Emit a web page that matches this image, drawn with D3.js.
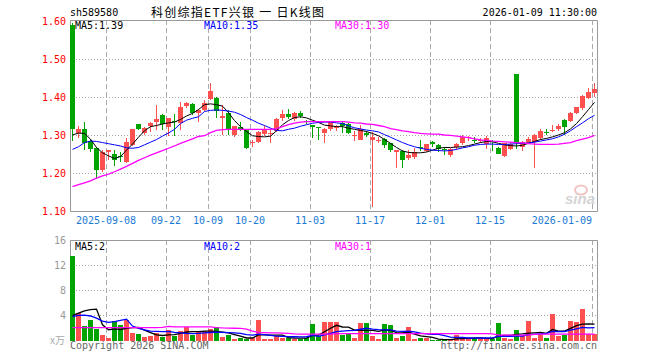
<!DOCTYPE html>
<html>
<head>
<meta charset="utf-8">
<script src="https://cdn.jsdelivr.net/npm/d3@7"></script>
<style>
body { margin: 0; background: #fff; }
svg text { font-family: "DejaVu Sans Mono", monospace; font-size: 10px; }
</style>
</head>
<body>
<svg id="chart" width="660" height="360"></svg>
<script>
// trading days shown on the chart
dates = [
  "2025-08-29",
  "2025-09-01","2025-09-02","2025-09-03","2025-09-04","2025-09-05",
  "2025-09-08","2025-09-09","2025-09-10","2025-09-11","2025-09-12",
  "2025-09-15","2025-09-16","2025-09-17","2025-09-18","2025-09-19",
  "2025-09-22","2025-09-23","2025-09-24","2025-09-25","2025-09-26",
  "2025-09-29","2025-09-30",
  "2025-10-09","2025-10-10",
  "2025-10-13","2025-10-14","2025-10-15","2025-10-16","2025-10-17",
  "2025-10-20","2025-10-21","2025-10-22","2025-10-23","2025-10-24",
  "2025-10-27","2025-10-28","2025-10-29","2025-10-30","2025-10-31",
  "2025-11-03","2025-11-04","2025-11-05","2025-11-06","2025-11-07",
  "2025-11-10","2025-11-11","2025-11-12","2025-11-13","2025-11-14",
  "2025-11-17","2025-11-18","2025-11-19","2025-11-20","2025-11-21",
  "2025-11-24","2025-11-25","2025-11-26","2025-11-27","2025-11-28",
  "2025-12-01","2025-12-02","2025-12-03","2025-12-04","2025-12-05",
  "2025-12-08","2025-12-09","2025-12-10","2025-12-11","2025-12-12",
  "2025-12-15","2025-12-16","2025-12-17","2025-12-18","2025-12-19",
  "2025-12-22","2025-12-23","2025-12-24","2025-12-25","2025-12-26",
  "2025-12-29","2025-12-30","2025-12-31",
  "2026-01-05","2026-01-06","2026-01-07","2026-01-08","2026-01-09"
];

openP = [1.591,1.305,1.316,1.286,1.267,1.208,1.257,1.250,1.246,1.230,1.274,1.330,1.306,1.326,1.335,1.353,1.321,1.338,1.333,1.378,1.382,1.358,
  1.367,1.397,1.398,1.347,1.360,1.301,1.322,1.316,1.279,1.283,1.303,1.303,1.311,1.347,1.356,1.343,1.360,1.337,1.327,1.323,1.307,1.318,
  1.321,1.333,1.330,1.300,1.289,1.307,1.288,1.286,1.290,1.279,1.257,1.258,1.241,1.242,1.268,1.259,1.282,1.274,1.263,1.248,1.268,1.279,
  1.292,1.289,1.286,1.277,1.284,1.267,1.245,1.263,1.462,1.270,1.279,1.283,1.292,1.310,1.313,1.316,1.340,1.339,1.360,1.371,1.399,1.412];
highP = [1.595,1.324,1.334,1.290,1.268,1.262,1.262,1.261,1.257,1.294,1.318,1.331,1.323,1.336,1.380,1.356,1.347,1.356,1.388,1.388,1.385,1.370,
  1.392,1.439,1.400,1.379,1.367,1.325,1.336,1.317,1.288,1.311,1.327,1.318,1.345,1.366,1.369,1.362,1.365,1.340,1.328,1.323,1.320,1.338,
  1.328,1.334,1.333,1.312,1.327,1.312,1.310,1.296,1.293,1.281,1.262,1.262,1.261,1.266,1.287,1.278,1.284,1.276,1.268,1.266,1.279,1.300,
  1.297,1.295,1.294,1.298,1.287,1.268,1.281,1.283,1.462,1.285,1.296,1.303,1.316,1.318,1.327,1.330,1.342,1.362,1.376,1.406,1.424,1.437];
lowP = [1.285,1.292,1.262,1.256,1.184,1.204,1.234,1.219,1.230,1.226,1.272,1.313,1.300,1.310,1.314,1.313,1.299,1.298,1.314,1.371,1.355,1.336,
  1.363,1.393,1.347,1.300,1.300,1.295,1.312,1.265,1.270,1.281,1.298,1.280,1.310,1.338,1.343,1.338,1.347,1.330,1.294,1.287,1.279,1.312,
  1.312,1.305,1.303,1.285,1.287,1.296,1.112,1.279,1.267,1.257,1.213,1.213,1.235,1.237,1.259,1.257,1.268,1.257,1.248,1.244,1.261,1.275,
  1.284,1.281,1.280,1.263,1.259,1.250,1.243,1.261,1.263,1.259,1.276,1.215,1.288,1.301,1.309,1.312,1.301,1.336,1.356,1.368,1.395,1.400];
closeP = [1.318,1.316,1.280,1.265,1.209,1.256,1.261,1.236,1.244,1.282,1.316,1.316,1.320,1.333,1.344,1.331,1.345,1.334,1.375,1.386,1.358,1.367,
  1.386,1.417,1.365,1.351,1.314,1.325,1.314,1.267,1.283,1.309,1.314,1.305,1.343,1.356,1.349,1.358,1.352,1.334,1.321,1.321,1.318,1.336,
  1.323,1.324,1.307,1.302,1.316,1.301,1.296,1.288,1.274,1.262,1.261,1.235,1.248,1.256,1.266,1.276,1.277,1.263,1.262,1.264,1.277,1.296,
  1.296,1.287,1.289,1.294,1.283,1.252,1.279,1.277,1.280,1.283,1.290,1.301,1.312,1.309,1.315,1.326,1.323,1.360,1.374,1.404,1.415,1.422];

// moving averages as drawn on the chart
ma5 = [1.301,1.306,1.305,1.290,1.268,1.254,1.246,1.239,1.244,1.261,1.277,1.295,1.312,1.323,1.326,1.330,1.333,1.335,1.342,1.351,1.358,1.368,
  1.381,1.383,1.381,1.377,1.360,1.339,1.323,1.310,1.299,1.297,1.296,1.298,1.312,1.328,1.339,1.347,1.349,1.346,1.340,1.334,1.327,1.325,
  1.323,1.323,1.319,1.316,1.313,1.310,1.305,1.299,1.289,1.279,1.268,1.259,1.255,1.254,1.254,1.256,1.261,1.266,1.268,1.268,1.269,1.270,
  1.273,1.277,1.281,1.284,1.283,1.279,1.275,1.273,1.272,1.274,1.279,1.284,1.289,1.292,1.296,1.301,1.307,1.317,1.331,1.349,1.368,1.387];
ma10 = [1.263,1.270,1.281,1.285,1.284,1.281,1.278,1.275,1.272,1.267,1.266,1.268,1.275,1.282,1.289,1.298,1.306,1.316,1.331,1.340,1.345,1.349,
  1.363,1.366,1.367,1.366,1.364,1.361,1.355,1.347,1.340,1.332,1.326,1.319,1.313,1.312,1.316,1.319,1.324,1.328,1.332,1.334,1.335,1.335,
  1.333,1.331,1.325,1.320,1.317,1.314,1.312,1.309,1.302,1.295,1.288,1.281,1.275,1.270,1.266,1.263,1.261,1.260,1.259,1.260,1.263,1.267,
  1.270,1.274,1.276,1.277,1.277,1.276,1.276,1.277,1.278,1.279,1.280,1.282,1.285,1.288,1.291,1.296,1.303,1.312,1.323,1.333,1.344,1.353];
ma30 = [1.165,1.170,1.175,1.180,1.187,1.193,1.198,1.204,1.211,1.218,1.226,1.234,1.241,1.248,1.254,1.260,1.266,1.272,1.279,1.285,1.291,1.297,
  1.299,1.307,1.313,1.315,1.316,1.316,1.316,1.316,1.316,1.316,1.316,1.316,1.318,1.323,1.328,1.332,1.335,1.336,1.336,1.336,1.336,1.336,
  1.336,1.336,1.335,1.333,1.332,1.330,1.329,1.326,1.323,1.318,1.315,1.312,1.310,1.307,1.305,1.304,1.303,1.303,1.301,1.300,1.298,1.296,
  1.294,1.291,1.288,1.287,1.285,1.284,1.283,1.282,1.281,1.280,1.278,1.277,1.276,1.276,1.276,1.277,1.279,1.281,1.286,1.290,1.294,1.300];

// volume in 万
volume = [13.4,4.3,2.3,3.25,1.8,0.85,0.42,3.1,2.45,3.25,1.22,1.0,0.58,0.69,1.22,0.58,1.65,0.69,1.54,2.18,0.85,1.54,
  1.54,1.86,2.07,0.58,0.85,0.2,0.42,0.3,0.4,3.25,0.3,0.3,0.7,0.4,0.4,0.3,0.3,0.47,2.6,0.69,2.98,2.98,
  2.98,0.85,1.0,0.47,2.82,2.82,0.69,0.3,2.6,2.45,0.47,0.69,2.13,0.3,0.37,0.37,0.15,0.15,0.05,0.15,0.85,0.37,
  0.26,0.42,0.26,0.42,0.26,2.77,0.37,0.26,1.65,0.69,3.09,0.47,0.85,0.47,4.21,0.69,0.85,3.09,2.93,5.0,1.1,1.1];
volMa5 = [3.95,4.35,4.7,4.9,5.0,2.5,1.72,1.85,1.75,1.95,2.05,2.1,1.65,1.25,0.9,0.8,0.9,0.95,1.15,1.35,1.4,1.4,
  1.5,1.5,1.45,1.35,1.2,0.95,0.7,0.4,0.4,0.88,0.88,0.86,0.85,0.85,0.45,0.4,0.38,0.37,0.8,0.86,1.4,1.95,
  2.42,2.15,2.12,1.66,1.63,1.6,1.6,1.46,1.7,1.6,1.25,1.2,1.35,1.0,0.75,0.62,0.5,0.23,0.13,0.15,0.27,0.3,
  0.33,0.38,0.4,0.33,0.31,0.78,0.81,0.81,0.98,1.05,1.18,1.22,1.28,1.15,1.75,1.5,1.5,1.93,2.35,2.6,2.65,2.62];
volMa10 = [3.8,4.0,4.05,3.9,3.55,3.1,2.9,3.0,3.2,3.4,2.3,1.93,1.7,1.5,1.45,1.42,1.45,1.3,1.2,1.13,1.1,1.13,
  1.2,1.27,1.32,1.3,1.25,1.2,1.12,0.95,0.85,1.0,0.92,0.8,0.7,0.66,0.62,0.6,0.58,0.6,0.8,0.65,0.88,1.15,
  1.42,1.5,1.58,1.62,1.79,1.95,1.8,1.72,1.7,1.68,1.5,1.44,1.47,1.37,1.19,1.04,0.99,0.96,0.76,0.53,0.5,0.48,
  0.4,0.4,0.4,0.4,0.42,0.66,0.68,0.68,0.7,0.72,0.92,0.98,1.06,1.14,1.45,1.4,1.43,1.66,1.85,2.1,2.02,2.05];
volMa30 = [2.05,2.05,2.05,2.05,2.05,2.05,2.05,2.05,2.05,2.05,2.05,2.05,2.05,2.05,2.05,2.1,2.25,2.18,2.18,2.18,2.18,2.18,
  2.18,2.18,2.05,2.0,1.98,1.95,1.93,1.8,1.5,1.3,1.25,1.22,1.2,1.18,1.15,1.05,1.0,1.0,1.0,1.0,1.0,1.0,
  1.1,1.1,1.1,1.1,1.1,1.1,1.1,1.1,1.1,1.1,1.1,1.1,1.1,1.1,1.1,1.1,1.1,1.1,1.1,1.1,1.1,1.1,
  1.1,1.1,1.1,1.1,1.05,0.87,0.87,0.87,0.87,0.87,0.9,0.98,1.0,1.0,1.0,1.0,1.0,1.0,1.0,1.0,1.0,1.0];

priceTicks = [1.10, 1.20, 1.30, 1.40, 1.50, 1.60];
volTicks = [4, 8, 12, 16];
dateTicks = ["2025-09-08","2025-09-22","2025-10-09","2025-10-20","2025-11-03","2025-11-17","2025-12-01","2025-12-15","2026-01-09"];
dateTickLabels = ["2025-09-08","09-22","10-09","10-20","11-03","11-17","12-01","12-15","2026-01-09"];

UP = "#ff5050";
DOWN = "#00a400";
GRID = "#aaaaaa";
FRAME = "#999999";

var svg = d3.select("#chart");
var left = 70, right = 598;

var x = d3.scaleBand().domain(dates).range([left, right]).padding(0);
var y = d3.scaleLinear().domain([1.10, 1.60]).range([211.2, 21.6]);
var yv = d3.scaleLinear().domain([0, 16]).range([340.5, 240]);

var bars = dates.map(function(d, i) {
    return {date: d, o: openP[i], h: highP[i], l: lowP[i], c: closeP[i], v: volume[i]};
});
function col(d) { return d.c >= d.o ? UP : DOWN; }

// ---- grid lines
var grid = svg.append("g");
grid.selectAll("line.hp").data([1.20, 1.30, 1.40, 1.50]).enter()
    .append("line")
    .attr("x1", left).attr("x2", 597)
    .attr("y1", d => Math.floor(y(d)) + 0.5).attr("y2", d => Math.floor(y(d)) + 0.5)
    .style("stroke", GRID).style("stroke-dasharray", "1,2");
grid.selectAll("line.hv").data([4, 8, 12]).enter()
    .append("line")
    .attr("x1", left).attr("x2", 597)
    .attr("y1", d => Math.floor(yv(d)) + 0.5).attr("y2", d => Math.floor(yv(d)) + 0.5)
    .style("stroke", GRID).style("stroke-dasharray", "1,2");
[[20, 211], [240, 341]].forEach(function(r) {
    grid.append("g").selectAll("line").data(dateTicks).enter()
        .append("line")
        .attr("x1", d => x(d) + 0.5).attr("x2", d => x(d) + 0.5)
        .attr("y1", r[0]).attr("y2", r[1])
        .style("stroke", GRID).style("stroke-dasharray", "5,3");
});

// ---- frames
svg.append("path")
    .attr("d", "M70.5,211.5V20.5H597.5V211.5H70.5")
    .style("fill", "none").style("stroke", FRAME);
svg.append("path")
    .attr("d", "M70.5,341V240.5H597.5V341")
    .style("fill", "none").style("stroke", FRAME);

// ---- watermark
svg.append("ellipse").attr("cx", 581).attr("cy", 190).attr("rx", 6).attr("ry", 4.5)
    .style("fill", "none").style("stroke", "#f2c4c4").style("stroke-width", 2);
svg.append("text").attr("x", 565).attr("y", 204)
    .style("font-family", "'Liberation Sans', sans-serif").style("font-size", "15px")
    .style("font-style", "italic").style("font-weight", "bold").style("fill", "#d4d4d4")
    .text("sina");

// ---- candles
var cg = svg.append("g").style("shape-rendering", "crispEdges");
cg.selectAll("rect.wick").data(bars).enter()
    .append("rect")
    .attr("x", d => x(d.date) + 2)
    .attr("width", 1)
    .attr("y", d => y(d.h))
    .attr("height", d => Math.max(1, y(d.l) - y(d.h)))
    .style("fill", col);
cg.selectAll("rect.body").data(bars).enter()
    .append("rect")
    .attr("x", d => x(d.date))
    .attr("width", 5)
    .attr("y", d => y(Math.max(d.o, d.c)))
    .attr("height", d => Math.max(1, Math.abs(y(d.o) - y(d.c))))
    .style("fill", col);

// ---- volume bars
cg.selectAll("rect.vol").data(bars).enter()
    .append("rect")
    .attr("x", d => x(d.date))
    .attr("width", 5)
    .attr("y", d => yv(d.v))
    .attr("height", d => yv(0) - yv(d.v))
    .style("fill", col);

// ---- moving average lines
function maLine(scale) {
    return d3.line().x((d, i) => x(dates[i]) + 2.5).y(d => scale(d));
}
[[ma5, "#000000", 1], [ma10, "#0000ff", 1], [ma30, "#ff00ff", 1.3]].forEach(function(s) {
    svg.append("path").attr("d", maLine(y)(s[0]))
        .style("fill", "none").style("stroke", s[1]).style("stroke-width", s[2]);
});
[[volMa5, "#000000"], [volMa10, "#0000ff"], [volMa30, "#ff00ff"]].forEach(function(s) {
    svg.append("path").attr("d", maLine(yv)(s[0]))
        .style("fill", "none").style("stroke", s[1]).style("stroke-width", 1.3);
});

// ---- axes
var yAxis = svg.append("g").attr("transform", "translate(70,0)")
    .call(d3.axisLeft(y).tickValues(priceTicks).tickFormat(d3.format(".2f")).tickSize(0).tickPadding(4));
yAxis.select(".domain").remove();
yAxis.selectAll("text").style("fill", "#ff0000")
    .style("font-family", "'DejaVu Sans Mono', monospace").style("font-size", "10px");

var vAxis = svg.append("g").attr("transform", "translate(70,0)")
    .call(d3.axisLeft(yv).tickValues(volTicks).tickSize(0).tickPadding(4));
vAxis.select(".domain").remove();
vAxis.selectAll("text").style("fill", "#999999")
    .style("font-family", "'DejaVu Sans Mono', monospace").style("font-size", "10px");

var xAxis = svg.append("g").attr("transform", "translate(-3,211)")
    .call(d3.axisBottom(x).tickValues(dateTicks)
        .tickFormat((d, i) => dateTickLabels[i]).tickSize(0).tickPadding(6));
xAxis.select(".domain").remove();
xAxis.selectAll("text").style("fill", "#1a7ad4")
    .style("font-family", "'DejaVu Sans Mono', monospace").style("font-size", "10px")
    .attr("text-anchor", (d, i) => i === dateTicks.length - 1 ? "end" : "middle");

// ---- texts
svg.append("text").attr("x", 70).attr("y", 16).text("sh589580");
svg.append("text").attr("x", 151).attr("y", 16.5)
    .attr("textLength", 173).attr("lengthAdjust", "spacing")
    .style("font-family", "'Noto Sans CJK SC', sans-serif").style("font-size", "12px")
    .text("科创综指ETF兴银 一 日K线图");
svg.append("text").attr("x", 597).attr("y", 16).attr("text-anchor", "end").text("2026-01-09 11:30:00");

var last = dates.length - 1;
svg.append("text").attr("x", 75).attr("y", 29).style("fill", "#000").text("MA5:" + ma5[last].toFixed(2));
svg.append("text").attr("x", 204).attr("y", 29).style("fill", "#0000ff").text("MA10:" + ma10[last].toFixed(2));
svg.append("text").attr("x", 335).attr("y", 29).style("fill", "#ff00ff").text("MA30:" + ma30[last].toFixed(2));

svg.append("text").attr("x", 75).attr("y", 249.5).style("fill", "#000").text("MA5:" + Math.floor(volMa5[last]));
svg.append("text").attr("x", 204).attr("y", 249.5).style("fill", "#0000ff").text("MA10:" + Math.floor(volMa10[last]));
svg.append("text").attr("x", 335).attr("y", 249.5).style("fill", "#ff00ff").text("MA30:" + Math.floor(volMa30[last]));

svg.append("text").attr("x", 65).attr("y", 344).attr("text-anchor", "end")
    .style("font-family", "'Noto Sans CJK SC', sans-serif").style("font-size", "10px").style("fill", "#aaaaaa")
    .text("x万");
svg.append("text").attr("x", 70).attr("y", 349).style("fill", "#666666").text("Copyright 2026 SINA.COM");
svg.append("text").attr("x", 597).attr("y", 349).attr("text-anchor", "end").style("fill", "#666666")
    .text("http://finance.sina.com.cn");
</script>
</body>
</html>
